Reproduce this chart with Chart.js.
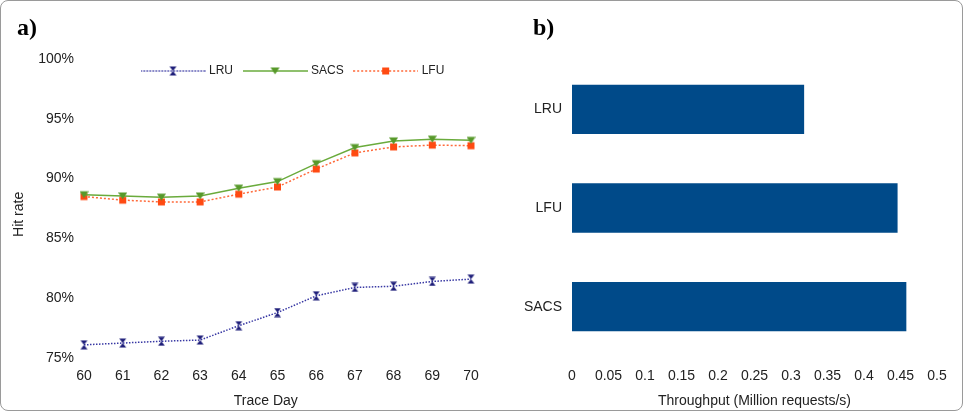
<!DOCTYPE html>
<html>
<head>
<meta charset="utf-8">
<script src="https://cdn.jsdelivr.net/npm/chart.js@4.4.1/dist/chart.umd.min.js"></script>
<style>
  html, body { margin: 0; padding: 0; background: #fff; }
  #frame { position: absolute; left: 0; top: 0; width: 961px; height: 409px; border: 1px solid #9a9a9a; border-radius: 8px; }
  .panel { position: absolute; top: 0; height: 412px; }
  #left { left: 0; width: 500px; }
  #right { left: 490px; width: 478px; }
  .tag { position: absolute; top: 15px; font: bold 24px "Liberation Serif", "Times New Roman", serif; line-height: 24px; color: #000; }
</style>
</head>
<body>
<div id="frame"></div>
<div class="panel" id="left"><canvas id="hitChart"></canvas></div>
<div class="panel" id="right"><canvas id="tputChart"></canvas></div>
<div class="tag" style="left:17px">a)</div>
<div class="tag" style="left:533px">b)</div>
<script>
// hit rate per trace day (%)
const days = ['60', '61', '62', '63', '64', '65', '66', '67', '68', '69', '70'];
const lruHit = [76.1, 76.25, 76.4, 76.5, 77.7, 78.8, 80.2, 80.9, 81.0, 81.4, 81.6];
const sacsHit = [88.65, 88.55, 88.45, 88.55, 89.2, 89.75, 91.25, 92.6, 93.15, 93.3, 93.2];
const lfuHit = [88.5, 88.2, 88.05, 88.05, 88.7, 89.3, 90.8, 92.15, 92.65, 92.8, 92.75];

// throughput (million requests/s)
const policies = ['LRU', 'LFU', 'SACS'];
const throughput = [0.318, 0.446, 0.458];

const FONT = '"Liberation Sans", Arial, sans-serif';
const TXT = '#222';

const LRU_COL = '#1f1f7a', LRU_LINE = '#3737a3';
const SACS_COL = '#57992a', SACS_LINE = '#6aab3c';
const LFU_COL = '#ff4a12', LFU_LINE = '#ff6a3a';

function drawMarker(ctx, kind, color, cx, cy) {
  ctx.fillStyle = color;
  ctx.beginPath();
  if (kind === 'hourglass') {
    ctx.moveTo(cx - 3.5, cy - 4.5); ctx.lineTo(cx + 3.5, cy - 4.5); ctx.lineTo(cx, cy);
    ctx.closePath();
    ctx.moveTo(cx - 3.5, cy + 4.5); ctx.lineTo(cx + 3.5, cy + 4.5); ctx.lineTo(cx, cy);
    ctx.closePath();
  } else if (kind === 'tri') {
    ctx.moveTo(cx - 4.5, cy - 3.5); ctx.lineTo(cx + 4.5, cy - 3.5); ctx.lineTo(cx, cy + 3.5);
    ctx.closePath();
  } else {
    ctx.rect(cx - 3.5, cy - 3.5, 7, 7);
  }
  ctx.fill();
}

function markerImg(kind, color) {
  const c = document.createElement('canvas');
  c.width = 9; c.height = 10;
  drawMarker(c.getContext('2d'), kind, color, 4.5, 5);
  return c;
}

function legendImg(kind, color, lineColor, dash) {
  const c = document.createElement('canvas');
  c.width = 65; c.height = 12;
  const ctx = c.getContext('2d');
  ctx.strokeStyle = lineColor;
  ctx.lineWidth = 1.5;
  ctx.setLineDash(dash);
  ctx.beginPath(); ctx.moveTo(0, 6); ctx.lineTo(65, 6); ctx.stroke();
  drawMarker(ctx, kind, color, 32.5, 6);
  return c;
}

const legendImgs = [
  legendImg('hourglass', LRU_COL, LRU_LINE, [1.5, 1.5]),
  legendImg('tri', SACS_COL, SACS_LINE, []),
  legendImg('rect', LFU_COL, LFU_LINE, [2, 2])
];

// move the legend row down into the plot, where the original has it
const legendShift = {
  id: 'legendShift',
  afterLayout(chart) {
    const l = chart.legend;
    const h = l.bottom - l.top, w = l.right - l.left;
    l.left = 131; l.right = 131 + w;
    l.top = 53; l.bottom = 53 + h;
  }
};

new Chart(document.getElementById('hitChart'), {
  type: 'line',
  data: {
    labels: days,
    datasets: [
      { label: 'LRU', data: lruHit, borderColor: LRU_LINE, borderWidth: 1.5, borderDash: [1.5, 1.5],
        pointStyle: markerImg('hourglass', LRU_COL), pointRadius: 4, tension: 0 },
      { label: 'SACS', data: sacsHit, borderColor: SACS_LINE, borderWidth: 1.5,
        pointStyle: markerImg('tri', SACS_COL), pointRadius: 4, tension: 0 },
      { label: 'LFU', data: lfuHit, borderColor: LFU_LINE, borderWidth: 1.5, borderDash: [2, 2],
        pointStyle: markerImg('rect', LFU_COL), pointRadius: 4, tension: 0 }
    ]
  },
  options: {
    responsive: true,
    maintainAspectRatio: false,
    animation: false,
    layout: { padding: { left: 0, right: 29, top: 25, bottom: 0 } },
    plugins: {
      tooltip: { enabled: false },
      legend: {
        position: 'top',
        align: 'start',
        labels: {
          usePointStyle: true,
          pointStyleWidth: 60,
          padding: 12,
          color: TXT,
          font: { family: FONT, size: 12 },
          generateLabels(chart) {
            const items = Chart.defaults.plugins.legend.labels.generateLabels(chart);
            items.forEach((it, i) => { it.pointStyle = legendImgs[i]; });
            return items;
          }
        }
      }
    },
    scales: {
      x: {
        grid: { display: false, drawTicks: false },
        border: { display: false },
        ticks: { color: TXT, font: { family: FONT, size: 14 }, padding: 10, maxRotation: 0 },
        title: { display: true, text: 'Trace Day      ', color: TXT, font: { family: FONT, size: 14 }, padding: { top: 0, bottom: 2 } },
        afterFit(scale) { scale.height = 54; }
      },
      y: {
        min: 75, max: 100,
        grid: { display: false, drawTicks: false },
        border: { display: false },
        ticks: { stepSize: 5, color: TXT, font: { family: FONT, size: 14 }, padding: 10,
                 callback: v => v + '%' },
        title: { display: true, text: 'Hit rate   ', color: TXT, font: { family: FONT, size: 14 }, padding: { top: 11, bottom: 0 } },
        afterFit(scale) { scale.width = 84; }
      }
    }
  },
  plugins: [legendShift]
});

new Chart(document.getElementById('tputChart'), {
  type: 'bar',
  data: {
    labels: policies,
    datasets: [{
      label: 'Throughput',
      data: throughput,
      backgroundColor: '#004a89',
      borderWidth: 0,
      barPercentage: 0.5,
      categoryPercentage: 1
    }]
  },
  options: {
    indexAxis: 'y',
    responsive: true,
    maintainAspectRatio: false,
    animation: false,
    layout: { padding: { left: 0, right: 31, top: 60, bottom: 0 } },
    plugins: { legend: { display: false }, tooltip: { enabled: false } },
    scales: {
      x: {
        min: 0, max: 0.5,
        grid: { display: false, drawTicks: false },
        border: { display: false },
        ticks: { stepSize: 0.05, color: TXT, font: { family: FONT, size: 14 }, padding: 12, maxRotation: 0,
                 callback: v => String(+v.toFixed(2)) },
        title: { display: true, text: 'Throughput (Million requests/s)', color: TXT, font: { family: FONT, size: 14 }, padding: { top: 0, bottom: 2 } },
        afterFit(scale) { scale.height = 56; }
      },
      y: {
        grid: { display: false, drawTicks: false },
        border: { display: false },
        ticks: { color: TXT, font: { family: FONT, size: 14 }, padding: 10 },
        afterFit(scale) { scale.width = 82; }
      }
    }
  }
});
</script>
</body>
</html>
